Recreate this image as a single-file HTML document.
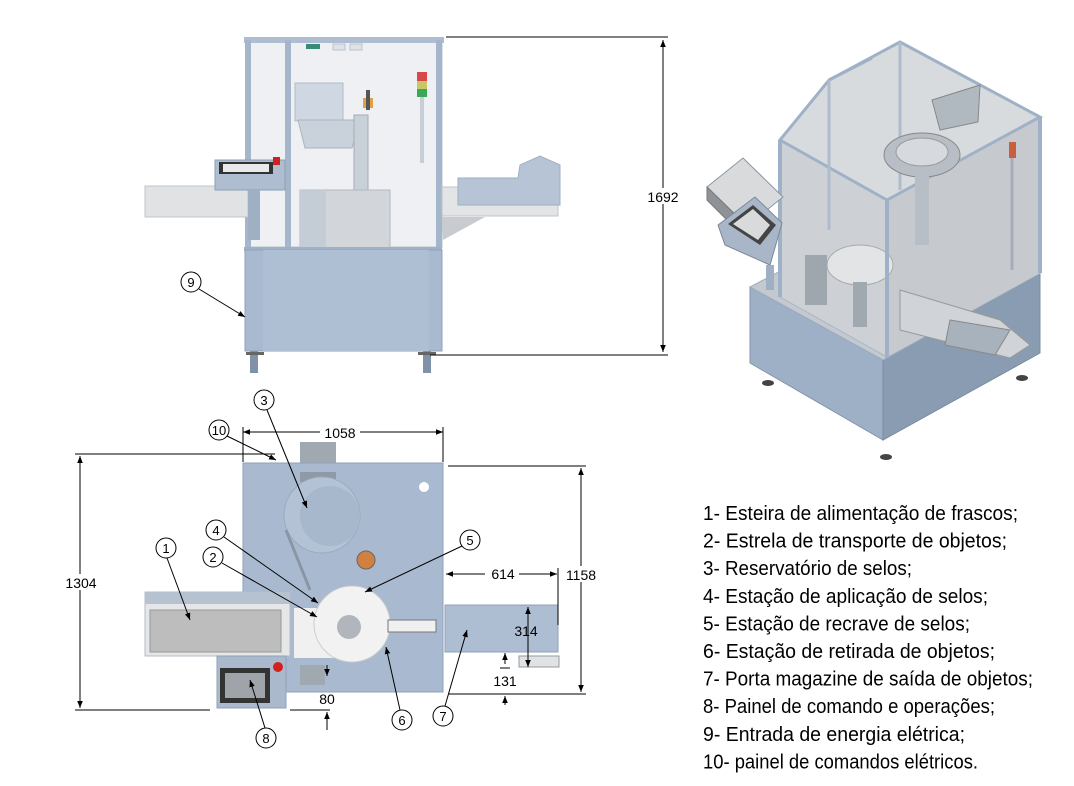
<!DOCTYPE html>
<html><head><meta charset="utf-8"><style>
html,body{margin:0;padding:0;background:#fff;width:1074px;height:786px;overflow:hidden}
svg{display:block}
text{font-family:"Liberation Sans",sans-serif}
</style></head><body>
<svg width="1074" height="786" viewBox="0 0 1074 786" xmlns="http://www.w3.org/2000/svg">
<defs>
<marker id="ar" viewBox="0 0 10 10" refX="10" refY="5" markerWidth="7" markerHeight="7" orient="auto-start-reverse"><path d="M0,1 L10,5 L0,9 z" fill="#000"/></marker>
</defs>

<!-- ============ FRONT VIEW ============ -->
<rect x="246" y="40" width="196" height="207" fill="#eef0f3" stroke="#b8c3d0"/>
<rect x="244" y="37" width="200" height="6" fill="#aebdd0"/>
<rect x="245" y="40" width="6" height="210" fill="#a6b6ca"/>
<rect x="285" y="40" width="6" height="210" fill="#a6b6ca"/>
<rect x="436" y="40" width="6" height="210" fill="#a6b6ca"/>
<rect x="306" y="44" width="14" height="5" fill="#3a8a7a"/>
<rect x="333" y="44" width="12" height="6" fill="#dfe3e8" stroke="#b8c3d0"/>
<rect x="350" y="44" width="12" height="6" fill="#dfe3e8" stroke="#b8c3d0"/>
<rect x="295" y="83" width="48" height="38" fill="#cfd8e2" stroke="#b0bcc8"/>
<path d="M298,120 L360,120 L352,148 L305,148 z" fill="#c9d1da" stroke="#aab5c0"/>
<rect x="354" y="115" width="14" height="115" fill="#c8d0d8" stroke="#aab"/>
<rect x="363" y="98" width="10" height="10" fill="#e0a04a"/>
<rect x="366" y="90" width="4" height="20" fill="#555"/>
<rect x="300" y="190" width="90" height="58" fill="#d2d6da" stroke="#b0b8c0"/>
<rect x="300" y="190" width="26" height="58" fill="#c4ccd6"/>
<rect x="417" y="72" width="10" height="9" fill="#d84848"/>
<rect x="417" y="81" width="10" height="8" fill="#c8c860"/>
<rect x="417" y="89" width="10" height="8" fill="#3aa858"/>
<rect x="420" y="97" width="4" height="66" fill="#c8ced6"/>
<rect x="145" y="186" width="103" height="31" fill="#e0e2e4" stroke="#c0c4c8"/>
<rect x="442" y="187" width="116" height="29" fill="#e2e4e6" stroke="#c0c4c8"/>
<path d="M458,178 L518,178 L520,165 L540,156 L560,165 L560,205 L458,205 z" fill="#b6c4d6" stroke="#9fb0c4"/>
<path d="M442,217 L485,217 L443,240 z" fill="#c8ccd0"/>
<rect x="215" y="160" width="70" height="30" fill="#aebdd0" stroke="#8fa0b4"/>
<rect x="219" y="162" width="54" height="12" fill="#333"/>
<rect x="223" y="164" width="46" height="8" fill="#e8eaec"/>
<rect x="273" y="157" width="7" height="8" fill="#d02020"/>
<rect x="248" y="190" width="12" height="50" fill="#9fb0c4"/>
<rect x="244" y="247" width="198" height="4" fill="#9fb1c6"/>
<rect x="245" y="250" width="197" height="101" fill="#a9bad0" stroke="#90a2b8"/>
<rect x="263" y="250" width="166" height="101" fill="#aebed3"/>
<rect x="250" y="351" width="8" height="22" fill="#8092a8"/>
<rect x="423" y="351" width="8" height="22" fill="#8092a8"/>
<rect x="246" y="352" width="18" height="3" fill="#666"/>
<rect x="418" y="352" width="18" height="3" fill="#666"/>
<line x1="446" y1="37" x2="668" y2="37" stroke="#000" stroke-width="1"/>
<line x1="430" y1="355" x2="668" y2="355" stroke="#000" stroke-width="1"/>
<line x1="663" y1="40" x2="663" y2="352" stroke="#000" marker-start="url(#ar)" marker-end="url(#ar)"/>
<rect x="644" y="188" width="38" height="16" fill="#fff"/>
<text x="663" y="202" font-size="14" text-anchor="middle">1692</text>
<circle cx="191" cy="282" r="10" fill="#fff" stroke="#000"/>
<text x="191" y="287" font-size="13" text-anchor="middle">9</text>
<line x1="199" y1="289" x2="245" y2="317" stroke="#000" marker-end="url(#ar)"/>

<!-- ============ 3D VIEW ============ -->
<polygon points="750,287 883,360 883,440 750,363" fill="#9eb0c6" stroke="#8295ac"/>
<polygon points="883,360 1040,273 1040,353 883,440" fill="#8a9cb2" stroke="#7a8ca2"/>
<polygon points="750,287 883,360 1040,273 905,205" fill="#c2c9d1" stroke="#a0acba"/>
<polygon points="780,140 829,80 900,42 1040,117 1040,273 887,357 780,297" fill="#cdd1d5" stroke="#a8b6c6"/>
<polygon points="887,200 1040,117 1040,273 887,357" fill="#c6cacf"/>
<polygon points="900,42 1040,117 887,200 780,140 829,80" fill="#d8dbde" stroke="#9fb1c6" stroke-width="3"/>
<line x1="829" y1="80" x2="872" y2="58" stroke="#9fb1c6" stroke-width="3"/>
<line x1="829" y1="80" x2="829" y2="230" stroke="#aebccc" stroke-width="3"/>
<line x1="900" y1="42" x2="900" y2="190" stroke="#aebccc" stroke-width="3"/>
<ellipse cx="922" cy="155" rx="38" ry="22" fill="#b8bec5" stroke="#888"/>
<ellipse cx="922" cy="152" rx="26" ry="14" fill="#d6dadf" stroke="#999"/>
<polygon points="932,100 980,85 978,122 940,130" fill="#b0b8c0" stroke="#888"/>
<rect x="915" y="175" width="14" height="70" fill="#b8bec6"/>
<ellipse cx="860" cy="265" rx="33" ry="20" fill="#e2e4e6" stroke="#aaa"/>
<rect x="805" y="255" width="22" height="50" fill="#9ea6ae"/>
<rect x="853" y="282" width="14" height="45" fill="#a0a8b0"/>
<line x1="1012" y1="150" x2="1012" y2="270" stroke="#aab" stroke-width="3"/>
<rect x="1009" y="142" width="7" height="16" fill="#c86040"/>
<line x1="780" y1="140" x2="780" y2="297" stroke="#9fb1c6" stroke-width="4"/>
<line x1="887" y1="200" x2="887" y2="358" stroke="#9fb1c6" stroke-width="4"/>
<line x1="1040" y1="117" x2="1040" y2="273" stroke="#9fb1c6" stroke-width="4"/>
<!-- left conveyor + panel -->
<polygon points="707,187 743,158 783,197 747,226" fill="#d8dadc" stroke="#8a96a4"/>
<polygon points="707,187 747,226 747,240 707,200" fill="#8f9398" stroke="#777"/>
<polygon points="718,225 755,197 782,223 770,265 725,245" fill="#a8b6c8" stroke="#7a8898"/>
<polygon points="728,224 753,205 776,225 760,245" fill="#444"/>
<polygon points="733,224 753,209 770,225 758,240" fill="#d8dadc"/>
<rect x="766" y="265" width="8" height="25" fill="#9fb0c4"/>
<!-- right conveyor -->
<polygon points="900,290 1000,320 1030,345 1010,358 900,330" fill="#d0d4d8" stroke="#999"/>
<polygon points="950,320 1010,330 995,355 945,345" fill="#a8b2bc" stroke="#888"/>
<ellipse cx="768" cy="383" rx="6" ry="3" fill="#444"/>
<ellipse cx="886" cy="457" rx="6" ry="3" fill="#444"/>
<ellipse cx="1022" cy="378" rx="6" ry="3" fill="#444"/>

<!-- ============ TOP VIEW ============ -->
<rect x="300" y="442" width="36" height="21" fill="#a0a8b0"/>
<rect x="243" y="463" width="200" height="229" fill="#a9bad0" stroke="#90a2b8"/>
<rect x="300" y="472" width="36" height="10" fill="#8f9aa6"/>
<circle cx="322" cy="515" r="38" fill="#b3c2d4" stroke="#9aaabb"/>
<circle cx="330" cy="516" r="30" fill="#a8b8cc"/>
<circle cx="424" cy="487" r="5" fill="#fff"/>
<line x1="286" y1="530" x2="310" y2="590" stroke="#8a96a4" stroke-width="3"/>
<rect x="145" y="592" width="145" height="64" fill="#e4e6e8" stroke="#b6bcc4"/>
<rect x="145" y="592" width="145" height="12" fill="#b6c2d0"/>
<rect x="150" y="610" width="131" height="42" fill="#bdbdbd" stroke="#999"/>
<rect x="294" y="608" width="60" height="50" fill="#f0f0f0"/>
<circle cx="352" cy="624" r="38" fill="#f2f2f2" stroke="#ccc"/>
<circle cx="349" cy="627" r="12" fill="#b0b6bc"/>
<rect x="388" y="620" width="48" height="12" fill="#f0f0f0" stroke="#777"/>
<circle cx="366" cy="560" r="9" fill="#d08040" stroke="#666"/>
<rect x="300" y="665" width="25" height="20" fill="#a0a8b0"/>
<rect x="217" y="656" width="69" height="52" fill="#aab9cc" stroke="#90a2b8"/>
<rect x="220" y="668" width="50" height="35" fill="#333"/>
<rect x="225" y="673" width="40" height="25" fill="#9ea4aa"/>
<circle cx="278" cy="667" r="5" fill="#d02020"/>
<rect x="445" y="605" width="113" height="47" fill="#aebed2" stroke="#90a2b8"/>
<rect x="519" y="656" width="40" height="11" fill="#e0e3e6" stroke="#999"/>
<line x1="243" y1="432" x2="443" y2="432" stroke="#000" marker-start="url(#ar)" marker-end="url(#ar)"/>
<line x1="243" y1="427" x2="243" y2="462" stroke="#000"/>
<line x1="443" y1="427" x2="443" y2="462" stroke="#000"/>
<rect x="320" y="424" width="40" height="16" fill="#fff"/>
<text x="340" y="438" font-size="14" text-anchor="middle">1058</text>
<line x1="75" y1="454" x2="275" y2="454" stroke="#000"/>
<line x1="75" y1="710" x2="210" y2="710" stroke="#000"/>
<line x1="290" y1="710" x2="330" y2="710" stroke="#000"/>
<line x1="80" y1="456" x2="80" y2="708" stroke="#000" marker-start="url(#ar)" marker-end="url(#ar)"/>
<rect x="64" y="574" width="34" height="16" fill="#fff"/>
<text x="81" y="588" font-size="14" text-anchor="middle">1304</text>
<line x1="448" y1="466" x2="586" y2="466" stroke="#000"/>
<line x1="448" y1="694" x2="586" y2="694" stroke="#000"/>
<line x1="581" y1="468" x2="581" y2="692" stroke="#000" marker-start="url(#ar)" marker-end="url(#ar)"/>
<rect x="565" y="566" width="32" height="16" fill="#fff"/>
<text x="581" y="580" font-size="14" text-anchor="middle">1158</text>
<line x1="446" y1="574" x2="557" y2="574" stroke="#000" marker-start="url(#ar)" marker-end="url(#ar)"/>
<line x1="558" y1="568" x2="558" y2="625" stroke="#000"/>
<rect x="485" y="566" width="34" height="16" fill="#fff"/>
<text x="503" y="579" font-size="14" text-anchor="middle">614</text>
<line x1="528" y1="607" x2="528" y2="667" stroke="#000" marker-start="url(#ar)" marker-end="url(#ar)"/>
<text x="526" y="636" font-size="14" text-anchor="middle">314</text>
<line x1="505" y1="653" x2="505" y2="664" stroke="#000" marker-start="url(#ar)"/>
<line x1="500" y1="668" x2="510" y2="668" stroke="#000"/>
<line x1="505" y1="705" x2="505" y2="696" stroke="#000" marker-end="url(#ar)"/>
<text x="505" y="686" font-size="14" text-anchor="middle">131</text>
<line x1="327" y1="665" x2="327" y2="676" stroke="#000" marker-end="url(#ar)"/>
<line x1="327" y1="730" x2="327" y2="712" stroke="#000" marker-end="url(#ar)"/>
<text x="327" y="704" font-size="14" text-anchor="middle">80</text>
<g stroke="#000" fill="#fff">
<circle cx="264" cy="400" r="10"/><circle cx="219" cy="430" r="10"/>
<circle cx="216" cy="530" r="10"/><circle cx="213" cy="557" r="10"/>
<circle cx="166" cy="548" r="10"/><circle cx="470" cy="540" r="10"/>
<circle cx="402" cy="720" r="10"/><circle cx="443" cy="716" r="10"/>
<circle cx="266" cy="738" r="10"/>
</g>
<g stroke="#000" fill="none">
<line x1="267" y1="410" x2="307" y2="508" marker-end="url(#ar)"/>
<line x1="227" y1="436" x2="276" y2="460" marker-end="url(#ar)"/>
<line x1="224" y1="537" x2="318" y2="603" marker-end="url(#ar)"/>
<line x1="222" y1="563" x2="317" y2="617" marker-end="url(#ar)"/>
<line x1="167" y1="558" x2="190" y2="620" marker-end="url(#ar)"/>
<line x1="462" y1="546" x2="365" y2="592" marker-end="url(#ar)"/>
<line x1="400" y1="710" x2="386" y2="647" marker-end="url(#ar)"/>
<line x1="445" y1="706" x2="467" y2="630" marker-end="url(#ar)"/>
<line x1="265" y1="728" x2="250" y2="680" marker-end="url(#ar)"/>
</g>
<g font-size="13" text-anchor="middle">
<text x="264" y="405">3</text><text x="219" y="435">10</text>
<text x="216" y="535">4</text><text x="213" y="562">2</text>
<text x="166" y="553">1</text><text x="470" y="545">5</text>
<text x="402" y="725">6</text><text x="443" y="721">7</text>
<text x="266" y="743">8</text>
</g>

<g font-size="20" fill="#000">
<text x="703" y="520" textLength="315" lengthAdjust="spacingAndGlyphs">1- Esteira de alimentação de frascos;</text>
<text x="703" y="547.6" textLength="304" lengthAdjust="spacingAndGlyphs">2- Estrela de transporte de objetos;</text>
<text x="703" y="575.2" textLength="209" lengthAdjust="spacingAndGlyphs">3- Reservatório de selos;</text>
<text x="703" y="602.8" textLength="285" lengthAdjust="spacingAndGlyphs">4- Estação de aplicação de selos;</text>
<text x="703" y="630.4" textLength="267" lengthAdjust="spacingAndGlyphs">5- Estação de recrave de selos;</text>
<text x="703" y="658" textLength="292" lengthAdjust="spacingAndGlyphs">6- Estação de retirada de objetos;</text>
<text x="703" y="685.6" textLength="330" lengthAdjust="spacingAndGlyphs">7- Porta magazine de saída de objetos;</text>
<text x="703" y="713.2" textLength="292" lengthAdjust="spacingAndGlyphs">8- Painel de comando e operações;</text>
<text x="703" y="740.8" textLength="262" lengthAdjust="spacingAndGlyphs">9- Entrada de energia elétrica;</text>
<text x="703" y="768.4" textLength="275" lengthAdjust="spacingAndGlyphs">10- painel de comandos elétricos.</text>
</g>
</svg>
</body></html>
